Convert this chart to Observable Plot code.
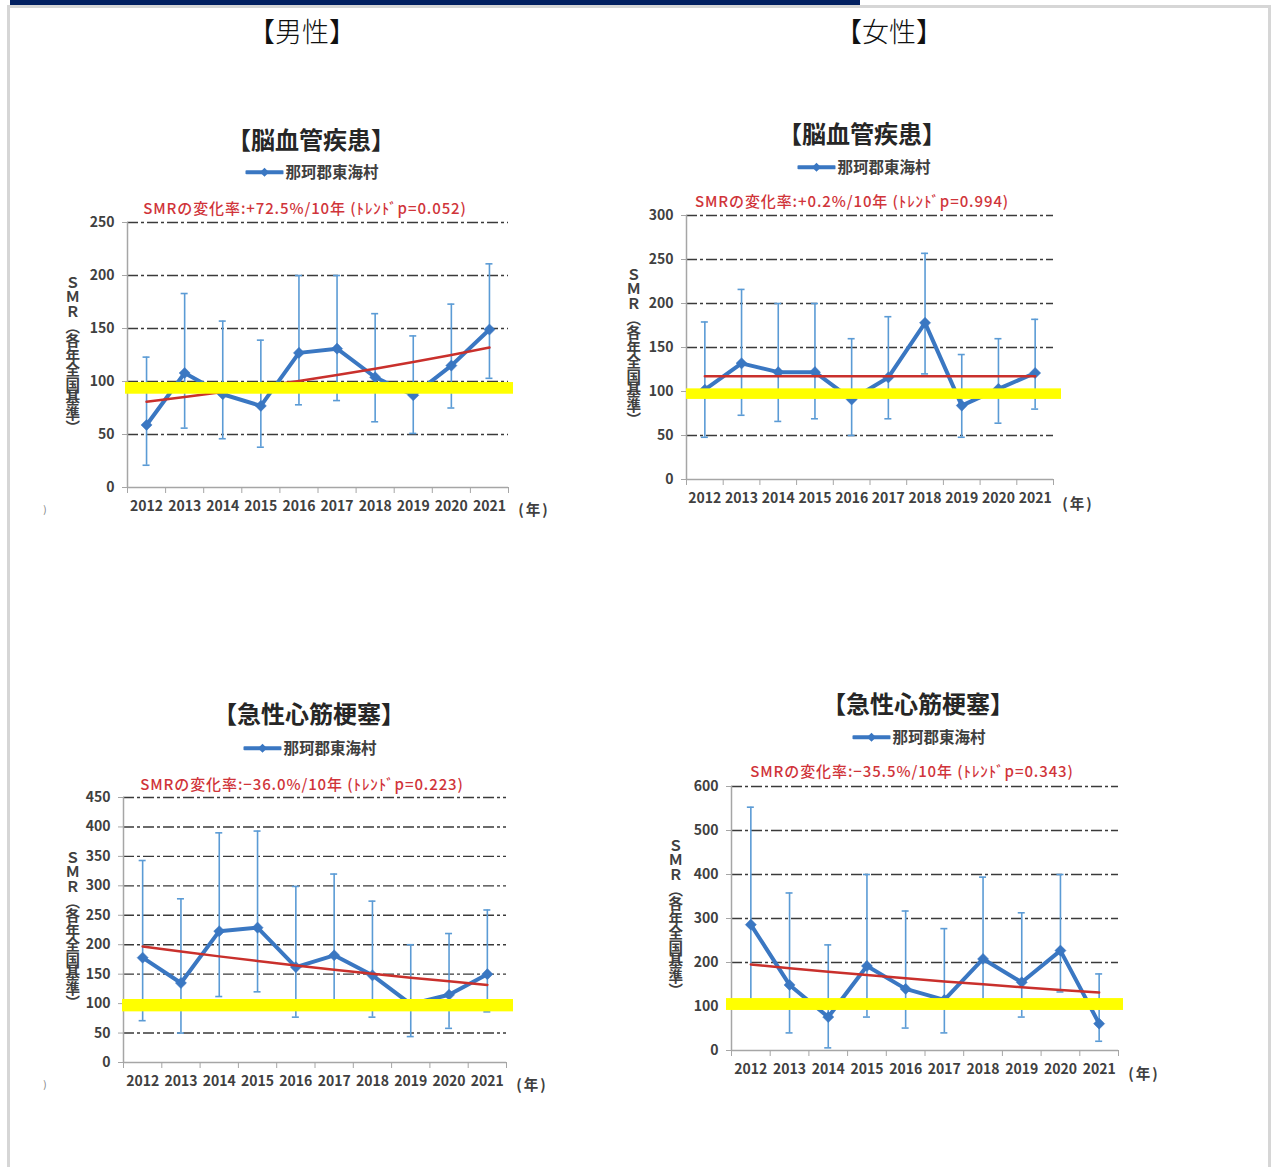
<!DOCTYPE html>
<html lang="ja">
<head>
<meta charset="utf-8">
<script src="https://cdn.jsdelivr.net/npm/d3@7"></script>
<script src="https://cdn.jsdelivr.net/npm/@observablehq/plot@0.6"></script>
<style>
  html, body { margin: 0; padding: 0; background: #fff; }
  body { width: 1274px; height: 1167px; position: relative; overflow: hidden;
         font-family: "Noto Sans CJK JP", "Noto Sans", sans-serif; }
  .topbar { position: absolute; left: 10px; top: 0; width: 850px; height: 6px; background: #022061; }
  .frame { position: absolute; left: 7px; top: 5px; width: 1258px; height: 1200px;
           border: 3px solid #d6d6d6; border-bottom: none; }
  .sex { position: absolute; top: 30px; font-size: 27px; font-weight: 300; color: #111;
         transform: translate(-50%, -50%); white-space: nowrap; line-height: 1; }
  .abs { position: absolute; transform: translate(-50%, -50%); white-space: nowrap; line-height: 1; }
  .title { font-size: 24px; font-weight: 700; color: #262626; }
  .legend { font-size: 15.5px; font-weight: 700; color: #404040; display: flex; align-items: center; gap: 2px; }
  .rate { font-size: 15px; font-weight: 500; color: #d0343a; letter-spacing: 0.9px; }
  .ylab { font-size: 14.5px; font-weight: 700; color: #404040; writing-mode: vertical-rl; text-orientation: upright; }
  .unit { font-size: 14.5px; font-weight: 700; color: #404040; letter-spacing: 2px; }
  .stray { font-size: 10px; color: #777; }
  .plot { position: absolute; }
</style>
</head>
<body>
<div class="topbar"></div>
<div class="frame"></div>
<div id="page"></div>
<script>
// 年次
const years = [2012, 2013, 2014, 2015, 2016, 2017, 2018, 2019, 2020, 2021];

// 男性・脳血管疾患：SMR と 95%信頼区間、トレンド
const maleStrokeSMR   = [59, 108, 88, 77, 127, 131, 104, 87, 115, 149];
const maleStrokeLow   = [21, 56, 46, 38, 78, 82, 62, 51, 75, 103];
const maleStrokeHigh  = [123, 183, 157, 139, 200, 200, 164, 143, 173, 211];
const maleStrokeTrend = [80.8, 85.3, 90.1, 95.2, 100.5, 106.1, 112.1, 118.4, 125.0, 132.0];

// 女性・脳血管疾患
const femaleStrokeSMR   = [102, 132, 122, 122, 91, 116, 178, 84, 103, 121];
const femaleStrokeLow   = [48, 73, 66, 69, 50, 69, 120, 48, 64, 80];
const femaleStrokeHigh  = [179, 216, 200, 200, 160, 185, 257, 142, 160, 182];
const femaleStrokeTrend = [117.2, 117.2, 117.2, 117.3, 117.3, 117.3, 117.3, 117.3, 117.4, 117.4];

// 男性・急性心筋梗塞
const maleAmiSMR   = [178, 135, 223, 229, 162, 182, 148, 99, 115, 150];
const maleAmiLow   = [71, 50, 112, 120, 77, 95, 77, 44, 58, 86];
const maleAmiHigh  = [343, 278, 390, 393, 299, 320, 274, 200, 219, 259];
const maleAmiTrend = [197.0, 188.4, 180.2, 172.3, 164.8, 157.6, 150.7, 144.1, 137.8, 131.8];

// 女性・急性心筋梗塞
const femaleAmiSMR   = [286, 149, 76, 192, 140, 115, 208, 155, 227, 61];
const femaleAmiLow   = [105, 40, 6, 76, 51, 40, 110, 76, 133, 21];
const femaleAmiHigh  = [553, 358, 240, 400, 317, 277, 394, 313, 400, 174];
const femaleAmiTrend = [195.5, 187.1, 179.1, 171.4, 164.1, 157.0, 150.3, 143.8, 137.7, 131.8];

// 軸目盛
const strokeMaleTicks   = [0, 50, 100, 150, 200, 250];
const strokeFemaleTicks = [0, 50, 100, 150, 200, 250, 300];
const amiMaleTicks      = [0, 50, 100, 150, 200, 250, 300, 350, 400, 450];
const amiFemaleTicks    = [0, 100, 200, 300, 400, 500, 600];

// 全国基準(100)付近の強調帯
const highlightBands = [[88, 99], [91, 103], [86, 107], [91, 118]];

// テキスト
const sexLabels   = ["【男性】", "【女性】"];
const diseaseNames = ["【脳血管疾患】", "【脳血管疾患】", "【急性心筋梗塞】", "【急性心筋梗塞】"];
const areaName    = "那珂郡東海村";
const changeRates = ["+72.5%", "+0.2%", "−36.0%", "−35.5%"];
const trendP      = ["0.052", "0.994", "0.223", "0.343"];
const yAxisLabel  = "ＳＭＲ︵各年全国基準︶";   // 縦書き用の括弧
const xUnit       = "(年)";

// パネル配置（ページ座標）
const layout = [
  { L: 127, R: 508,  T: 222, B: 487,  title: [311, 139], legend: [312, 172], rate: [305, 207], unit: [534, 509],  ylab: 72,  inset: [-2, -5], stray: true },
  { L: 686, R: 1053, T: 215, B: 479,  title: [862, 133], legend: [864, 167], rate: [852, 200], unit: [1078, 503], ylab: 633, inset: [0, -8] },
  { L: 123, R: 506,  T: 797, B: 1062, title: [309, 713], legend: [310, 748], rate: [302, 783], unit: [532, 1084], ylab: 72,  inset: [-1, -7], stray: true },
  { L: 731, R: 1118, T: 786, B: 1050, title: [918, 703], legend: [919, 737], rate: [912, 770], unit: [1144, 1073], ylab: 675, inset: [-5, -5] }
];

const series = [
  { smr: maleStrokeSMR,   lo: maleStrokeLow,   hi: maleStrokeHigh,   trend: maleStrokeTrend,   ticks: strokeMaleTicks },
  { smr: femaleStrokeSMR, lo: femaleStrokeLow, hi: femaleStrokeHigh, trend: femaleStrokeTrend, ticks: strokeFemaleTicks },
  { smr: maleAmiSMR,      lo: maleAmiLow,      hi: maleAmiHigh,      trend: maleAmiTrend,      ticks: amiMaleTicks },
  { smr: femaleAmiSMR,    lo: femaleAmiLow,    hi: femaleAmiHigh,    trend: femaleAmiTrend,    ticks: amiFemaleTicks }
];

const BLUE = "#3a77c2", BAR = "#5b9bd5", RED = "#c9302c", AXIS = "#a6a6a6", INK = "#404040";
const page = document.getElementById("page");

function place(cls, html, x, y) {
  const d = document.createElement("div");
  d.className = "abs " + cls;
  d.innerHTML = html;
  d.style.left = x + "px";
  d.style.top = y + "px";
  page.appendChild(d);
  return d;
}

// 性別見出し
place("sex", sexLabels[0], 302, 30).classList.remove("abs");
place("sex", sexLabels[1], 889, 30).classList.remove("abs");

const legendSwatch =
  `<svg width="38" height="12" viewBox="0 0 38 12"><line x1="1" y1="6" x2="37" y2="6" stroke="${BLUE}" stroke-width="4" stroke-linecap="round"/>` +
  `<path d="M19 1.5 L23.5 6 L19 10.5 L14.5 6 Z" fill="${BLUE}"/></svg>`;

series.forEach((s, k) => {
  const g = layout[k];
  const rows = years.map((year, i) => ({ year, smr: s.smr[i], lo: s.lo[i], hi: s.hi[i], trend: s.trend[i] }));
  const edges = [...years.map(y => y - 0.5), years[years.length - 1] + 0.5];
  const band = highlightBands[k];
  const ml = 60, mt = 8, mr = 14, mb = 40;
  const w = g.R - g.L, h = g.B - g.T;

  const chart = Plot.plot({
    width: w + ml + mr,
    height: h + mt + mb,
    marginLeft: ml, marginTop: mt, marginRight: mr, marginBottom: mb,
    style: { fontFamily: '"Noto Sans CJK JP", "Noto Sans", sans-serif', fontSize: "14px", fontWeight: "700", background: "transparent", overflow: "visible" },
    x: { domain: [edges[0], edges[edges.length - 1]], label: null },
    y: { domain: [0, s.ticks[s.ticks.length - 1]], label: null },
    marks: [
      // 一点鎖線の目盛線
      Plot.ruleY(s.ticks.filter(v => v > 0), { stroke: "#3a3a3a", strokeWidth: 1.4, strokeDasharray: "11,3,3,3" }),
      // 軸線
      Plot.ruleY([0], { stroke: AXIS, strokeWidth: 1.5 }),
      Plot.ruleX([edges[0]], { stroke: AXIS, strokeWidth: 1.5 }),
      Plot.axisY({ ticks: s.ticks, tickSize: 5, tickPadding: 8, stroke: AXIS, fill: INK, tickFormat: d => String(d), label: null }),
      Plot.axisX({ ticks: edges, tickSize: 6, stroke: AXIS, tickFormat: () => "", label: null }),
      Plot.axisX({ ticks: years, tickSize: 0, tickPadding: 14, fill: INK, tickFormat: d => String(d), label: null }),
      // 95%信頼区間
      Plot.ruleX(rows, { x: "year", y1: "lo", y2: "hi", stroke: BAR, strokeWidth: 1.6 }),
      Plot.ruleY(rows, { y: "hi", x1: "year", x2: "year", insetLeft: -3.5, insetRight: -3.5, stroke: BAR, strokeWidth: 1.6 }),
      Plot.ruleY(rows, { y: "lo", x1: "year", x2: "year", insetLeft: -3.5, insetRight: -3.5, stroke: BAR, strokeWidth: 1.6 }),
      // SMR 推移
      Plot.line(rows, { x: "year", y: "smr", stroke: BLUE, strokeWidth: 4 }),
      Plot.dot(rows, { x: "year", y: "smr", symbol: "diamond2", r: 5, fill: BLUE, stroke: BLUE, strokeWidth: 0.5 }),
      // トレンド
      Plot.line(rows, { x: "year", y: "trend", stroke: RED, strokeWidth: 2.5 }),
      // 全国基準付近の強調帯
      Plot.rect([band], { x1: () => edges[0], x2: () => edges[edges.length - 1], y1: d => d[0], y2: d => d[1],
        fill: "#ffff00", insetLeft: g.inset[0], insetRight: g.inset[1] })
    ]
  });
  chart.classList.add("plot");
  chart.style.left = (g.L - ml) + "px";
  chart.style.top = (g.T - mt) + "px";
  page.appendChild(chart);

  place("title", diseaseNames[k], g.title[0], g.title[1]);
  place("legend", legendSwatch + `<span>${areaName}</span>`, g.legend[0], g.legend[1]);
  place("rate", `SMRの変化率:${changeRates[k]}/10年 (ﾄﾚﾝﾄﾞp=${trendP[k]})`, g.rate[0], g.rate[1]);
  place("ylab", yAxisLabel, g.ylab, (g.T + g.B) / 2);
  place("unit", xUnit, g.unit[0], g.unit[1]);
  if (g.stray) place("stray", ")", 45, g.unit[1]);
});
</script>
</body>
</html>
